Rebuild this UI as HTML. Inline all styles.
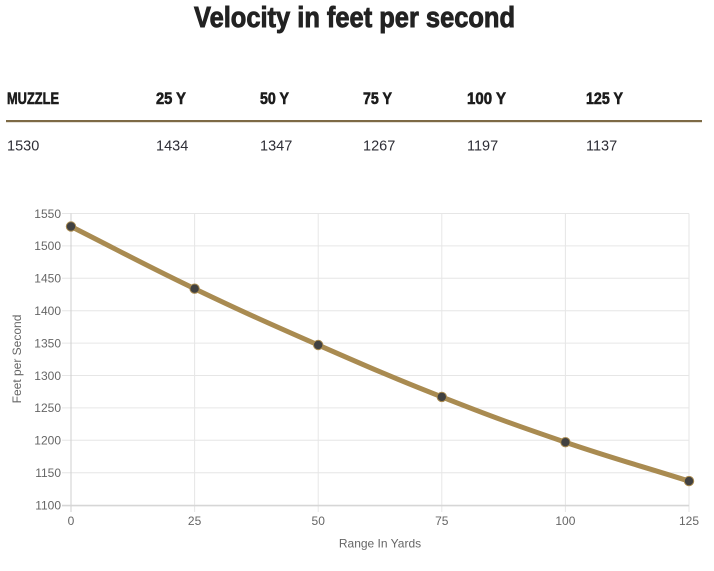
<!DOCTYPE html>
<html>
<head>
<meta charset="utf-8">
<style>
  html, body { margin: 0; padding: 0; background: #ffffff; }
  svg { display: block; }
</style>
</head>
<body>
<svg width="714" height="571" viewBox="0 0 714 571" xmlns="http://www.w3.org/2000/svg">
  <rect x="0" y="0" width="714" height="571" fill="#ffffff"/>

  <!-- Title -->
  <text x="194" y="27" font-family="'Liberation Sans Narrow', 'Liberation Sans', sans-serif" font-weight="bold" font-size="29" fill="#222222" stroke="#222222" stroke-width="0.9" textLength="321" lengthAdjust="spacingAndGlyphs">Velocity in feet per second</text>

  <!-- Table header -->
  <g font-family="'Liberation Sans Narrow', 'Liberation Sans', sans-serif" font-weight="bold" font-size="17" fill="#1c1c1c" stroke="#1c1c1c" stroke-width="0.6">
    <text x="7" y="104" textLength="52" lengthAdjust="spacingAndGlyphs">MUZZLE</text>
    <text x="156" y="104" textLength="30" lengthAdjust="spacingAndGlyphs">25 Y</text>
    <text x="260" y="104" textLength="29" lengthAdjust="spacingAndGlyphs">50 Y</text>
    <text x="363" y="104" textLength="29" lengthAdjust="spacingAndGlyphs">75 Y</text>
    <text x="467" y="104" textLength="39" lengthAdjust="spacingAndGlyphs">100 Y</text>
    <text x="586" y="104" textLength="37" lengthAdjust="spacingAndGlyphs">125 Y</text>
  </g>
  <rect x="6" y="120" width="696" height="2.2" fill="#7d6a45"/>

  <!-- Table values -->
  <g font-family="'Liberation Sans', sans-serif" font-size="14.5" fill="#2e2e36">
    <text x="7" y="150.5">1530</text>
    <text x="156" y="150.5">1434</text>
    <text x="260" y="150.5">1347</text>
    <text x="363" y="150.5">1267</text>
    <text x="467" y="150.5">1197</text>
    <text x="586" y="150.5">1137</text>
  </g>

  <!-- Grid: horizontal -->
  <g stroke="#e6e6e6" stroke-width="1">
    <line x1="62" y1="213.5" x2="689" y2="213.5"/>
    <line x1="62" y1="245.9" x2="689" y2="245.9"/>
    <line x1="62" y1="278.3" x2="689" y2="278.3"/>
    <line x1="62" y1="310.7" x2="689" y2="310.7"/>
    <line x1="62" y1="343.1" x2="689" y2="343.1"/>
    <line x1="62" y1="375.5" x2="689" y2="375.5"/>
    <line x1="62" y1="407.9" x2="689" y2="407.9"/>
    <line x1="62" y1="440.3" x2="689" y2="440.3"/>
    <line x1="62" y1="472.7" x2="689" y2="472.7"/>
  </g>
  <!-- Grid: vertical -->
  <g stroke="#e6e6e6" stroke-width="1">
    <line x1="194.6" y1="213.5" x2="194.6" y2="512"/>
    <line x1="318.2" y1="213.5" x2="318.2" y2="512"/>
    <line x1="441.8" y1="213.5" x2="441.8" y2="512"/>
    <line x1="565.4" y1="213.5" x2="565.4" y2="512"/>
    <line x1="689" y1="213.5" x2="689" y2="512"/>
  </g>
  <!-- Axes -->
  <line x1="71" y1="213.5" x2="71" y2="512" stroke="#cfcfcf" stroke-width="1"/>
  <line x1="62" y1="505.6" x2="689" y2="505.6" stroke="#d6d6d6" stroke-width="1.6"/>

  <!-- Y tick labels -->
  <g font-family="'Liberation Sans', sans-serif" font-size="12" fill="#666666" text-anchor="end">
    <text x="61" y="217.8">1550</text>
    <text x="61" y="250.2">1500</text>
    <text x="61" y="282.6">1450</text>
    <text x="61" y="315">1400</text>
    <text x="61" y="347.4">1350</text>
    <text x="61" y="379.8">1300</text>
    <text x="61" y="412.2">1250</text>
    <text x="61" y="444.6">1200</text>
    <text x="61" y="477">1150</text>
    <text x="61" y="509.4">1100</text>
  </g>

  <!-- X tick labels -->
  <g font-family="'Liberation Sans', sans-serif" font-size="12" fill="#666666" text-anchor="middle">
    <text x="71" y="525">0</text>
    <text x="194.6" y="525">25</text>
    <text x="318.2" y="525">50</text>
    <text x="441.8" y="525">75</text>
    <text x="565.4" y="525">100</text>
    <text x="689" y="525">125</text>
  </g>

  <!-- Axis titles -->
  <text x="380" y="547.5" font-family="'Liberation Sans', sans-serif" font-size="12" fill="#666666" text-anchor="middle">Range In Yards</text>
  <text transform="translate(21,359) rotate(-90)" x="0" y="0" font-family="'Liberation Sans', sans-serif" font-size="12" fill="#666666" text-anchor="middle">Feet per Second</text>

  <!-- Data line -->
  <path d="M71,226.5 C120.4,251.4 144.7,264.8 194.6,288.7 C243.6,312.2 268.5,323.2 318.2,345.0 C367.3,366.5 391.9,377.3 441.8,396.9 C490.8,416.2 515.6,425.2 565.4,442.2 C614.5,458.9 639.6,465.5 689,481.1" fill="none" stroke="#a98b51" stroke-width="5" stroke-linecap="round" stroke-linejoin="round"/>

  <!-- Points -->
  <g fill="#414141" stroke="#a98b51" stroke-width="1">
    <circle cx="71" cy="226.5" r="4.7"/>
    <circle cx="194.6" cy="288.7" r="4.7"/>
    <circle cx="318.2" cy="345.0" r="4.7"/>
    <circle cx="441.8" cy="396.9" r="4.7"/>
    <circle cx="565.4" cy="442.2" r="4.7"/>
    <circle cx="689" cy="481.1" r="4.7"/>
  </g>
</svg>
</body>
</html>
